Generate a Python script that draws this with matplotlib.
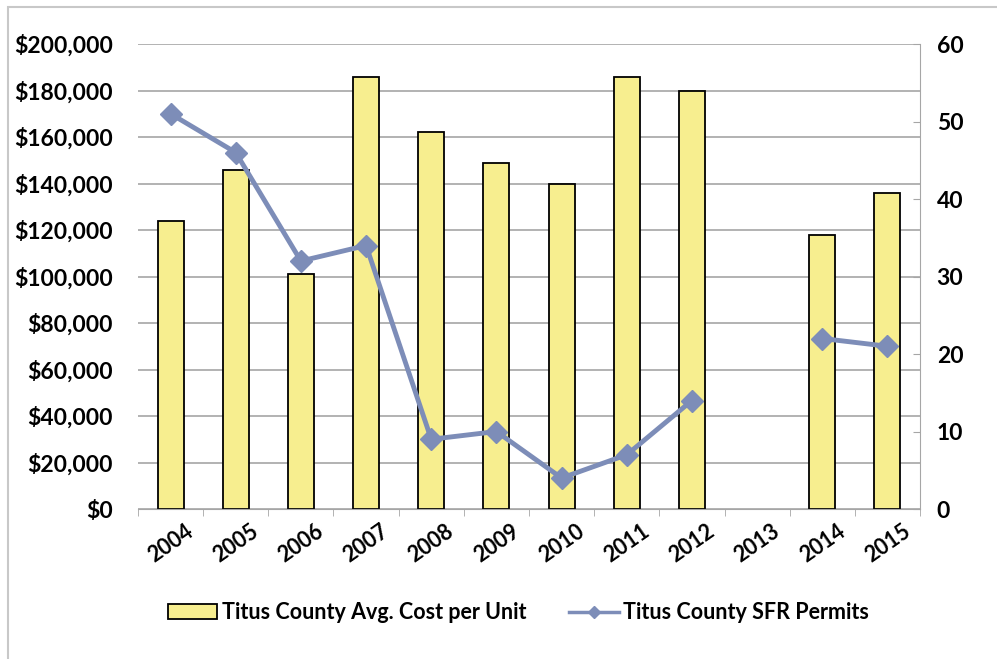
import matplotlib.pyplot as plt
import numpy as np
from matplotlib.patches import Rectangle

years = ["2004", "2005", "2006", "2007", "2008", "2009", "2010", "2011",
         "2012", "2013", "2014", "2015"]
avg_cost = [124000, 146000, 101000, 186000, 162000, 149000, 140000, 186000,
            180000, np.nan, 118000, 136000]
sfr_permits = [51, 46, 32, 34, 9, 10, 4, 7, 14, np.nan, 22, 21]

plt.rcParams['font.family'] = ['Lato', 'DejaVu Sans']
plt.rcParams['font.weight'] = 'bold'

fig = plt.figure(figsize=(9.97, 6.59), dpi=100)
fig.patches.append(Rectangle((0.008, -0.01), 1.0, 1.0, transform=fig.transFigure,
                             fill=False, edgecolor='#c8c8c8', linewidth=1.5))
ax = fig.add_axes([0.1384, 0.2276, 0.7844, 0.7056])
x = np.arange(len(years))

bars = ax.bar(x, avg_cost, width=0.4, color='#f7ee8f', edgecolor='black',
              linewidth=1.3, zorder=2, label='Titus County Avg. Cost per Unit')
ax.set_xlim(-0.5, len(years) - 0.5)
ax.set_ylim(0, 200000)
ax.set_yticks(range(0, 200001, 20000))
ax.set_yticklabels(['${:,}'.format(v) for v in range(0, 200001, 20000)])
ax.grid(axis='y', color='#a6a6a6', linewidth=1.2, zorder=0)
ax.set_xticks(x)
ax.set_xticklabels(years, rotation=35, ha='center', fontsize=15.5)
ax.tick_params(axis='x', length=0, pad=8)
ax.set_xticks(np.arange(-0.5, len(years)), minor=True)
ax.tick_params(axis='x', which='minor', length=5, color='#a6a6a6')
ax.tick_params(axis='y', length=0, labelsize=16.5, pad=18)
for side in ['top', 'right', 'left']:
    ax.spines[side].set_visible(False)
ax.spines['bottom'].set_color('#a6a6a6')

ax2 = ax.twinx()
line, = ax2.plot(x, sfr_permits, color='#7d8db8', linewidth=3.5, marker='D',
                 markersize=11, zorder=3, label='Titus County SFR Permits')
ax2.set_ylim(0, 60)
ax2.set_yticks(range(0, 61, 10))
ax2.tick_params(axis='y', labelsize=16.5, length=5, direction='in',
                color='#a6a6a6', pad=12)
for side in ['top', 'left', 'bottom']:
    ax2.spines[side].set_visible(False)
ax2.spines['right'].set_color('#a6a6a6')

leg = fig.legend([bars, line], [bars.get_label(), line.get_label()],
                 loc='center', bbox_to_anchor=(0.52, 0.07), ncol=2, frameon=False,
                 fontsize=15.5, handlelength=2.3, columnspacing=2.0,
                 handletextpad=0.2, markerscale=0.55)
leg.get_lines()[0].set_linewidth(2.5)

fig.savefig('out.png', dpi=100)
